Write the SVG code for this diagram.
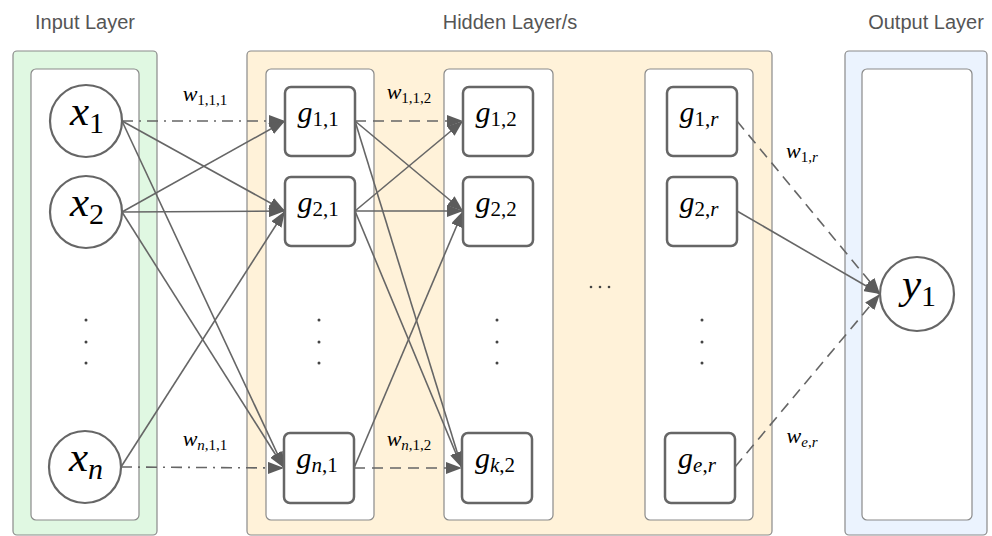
<svg xmlns="http://www.w3.org/2000/svg" width="992" height="536" viewBox="0 0 992 536">
<style>
.title{font-family:"Liberation Sans",Arial,sans-serif;font-size:20px;fill:#555;text-anchor:middle}
.outer{stroke:#8a8a8a;stroke-width:1.2}
.inner{fill:#fff;stroke:#8a8a8a;stroke-width:1.2}
.node{fill:#fff;stroke:#666;stroke-width:2.5}
.circ{fill:#fff;stroke:#666;stroke-width:2.2}
.m{font-family:"Liberation Serif","Times New Roman",serif;fill:#000;text-anchor:middle}
.i{font-style:italic}
.big{font-size:43px}
.sub{font-size:30px}
.gb{font-size:30px}
.gs{font-size:21px}
.wb{font-size:22px}
.ws{font-size:15px}
.dot{fill:#444}
.e{fill:none;stroke:#666;stroke-width:1.6;marker-end:url(#ah)}
.dd{stroke-dasharray:11 6 2 6}
.da{stroke-dasharray:11 7}
</style>
<defs>
<marker id="ah" markerUnits="userSpaceOnUse" markerWidth="16" markerHeight="12" refX="16" refY="6" orient="auto">
<path d="M0,0 L16,6 L0,12 z" fill="#5c5c5c"/>
</marker>
</defs>
<text class="title" x="85" y="29">Input Layer</text>
<text class="title" x="510" y="29">Hidden Layer/s</text>
<text class="title" x="926" y="29">Output Layer</text>
<g id="input-layer">
<rect class="outer" x="13" y="51" width="144" height="484" rx="4" fill="#e0f8e2"/>
<rect class="inner" x="31" y="69" width="108" height="451" rx="5"/>
<circle class="dot" cx="86" cy="320" r="1.5"/><circle class="dot" cx="86" cy="342" r="1.5"/><circle class="dot" cx="86" cy="363" r="1.5"/>
</g>
<g id="hidden-layer">
<rect class="outer" x="247" y="51" width="525" height="484" rx="4" fill="#fff2d9"/>
<rect class="inner" x="266" y="69" width="108" height="451" rx="5"/>
<rect class="inner" x="444" y="69" width="109" height="451" rx="5"/>
<rect class="inner" x="645" y="69" width="108" height="451" rx="5"/>
<circle class="dot" cx="319" cy="320" r="1.5"/><circle class="dot" cx="319" cy="342" r="1.5"/><circle class="dot" cx="319" cy="363" r="1.5"/>
<circle class="dot" cx="497" cy="320" r="1.5"/><circle class="dot" cx="497" cy="342" r="1.5"/><circle class="dot" cx="497" cy="363" r="1.5"/>
<circle class="dot" cx="702" cy="320" r="1.5"/><circle class="dot" cx="702" cy="342" r="1.5"/><circle class="dot" cx="702" cy="363" r="1.5"/>
<circle class="dot" cx="591" cy="287" r="1.3"/><circle class="dot" cx="600" cy="287" r="1.3"/><circle class="dot" cx="609" cy="287" r="1.3"/>
</g>
<g id="output-layer">
<rect class="outer" x="845" y="51" width="142" height="484" rx="4" fill="#ebf3fe"/>
<rect class="inner" x="862" y="69" width="110" height="451" rx="5"/>
</g>
<g id="connectors">
<line class="e dd" x1="122" y1="121" x2="285" y2="121"/>
<line class="e" x1="122" y1="121" x2="285" y2="211"/>
<line class="e" x1="122" y1="121" x2="284" y2="468"/>
<line class="e" x1="122" y1="212" x2="285" y2="121"/>
<line class="e" x1="122" y1="212" x2="285" y2="211"/>
<line class="e" x1="122" y1="212" x2="284" y2="468"/>
<line class="e" x1="121" y1="467" x2="285" y2="211"/>
<line class="e dd" x1="121" y1="467" x2="284" y2="468"/>
<line class="e da" x1="355" y1="121" x2="463" y2="121"/>
<line class="e" x1="355" y1="121" x2="463" y2="211"/>
<line class="e" x1="355" y1="121" x2="462" y2="468"/>
<line class="e" x1="355" y1="211" x2="463" y2="121"/>
<line class="e" x1="355" y1="211" x2="463" y2="211"/>
<line class="e" x1="355" y1="211" x2="462" y2="468"/>
<line class="e" x1="354" y1="468" x2="463" y2="211"/>
<line class="e da" x1="354" y1="468" x2="462" y2="468"/>
<line class="e da" x1="737" y1="121" x2="880" y2="294"/>
<line class="e" x1="737" y1="211" x2="880" y2="294"/>
<line class="e da" x1="735" y1="467" x2="880" y2="294"/>
</g>
<g id="labels">
<text class="m" x="205" y="101"><tspan class="wb i">w</tspan><tspan class="ws" dy="4">1,1,1</tspan></text>
<text class="m" x="205" y="446"><tspan class="wb i">w</tspan><tspan class="ws i" dy="4">n</tspan><tspan class="ws">,1,1</tspan></text>
<text class="m" x="409" y="99"><tspan class="wb i">w</tspan><tspan class="ws" dy="4">1,1,2</tspan></text>
<text class="m" x="409" y="446"><tspan class="wb i">w</tspan><tspan class="ws i" dy="4">n</tspan><tspan class="ws">,1,2</tspan></text>
<text class="m" x="802" y="158"><tspan class="wb i">w</tspan><tspan class="ws" dy="4">1,</tspan><tspan class="ws i">r</tspan></text>
<text class="m" x="802" y="443"><tspan class="wb i">w</tspan><tspan class="ws i" dy="4">e</tspan><tspan class="ws">,</tspan><tspan class="ws i">r</tspan></text>
</g>
<g id="x1"><circle class="circ" cx="86" cy="121" r="36"/><text class="m" x="87" y="125"><tspan class="big i">x</tspan><tspan class="sub" dy="8">1</tspan></text></g>
<g id="x2"><circle class="circ" cx="86" cy="212" r="36"/><text class="m" x="87" y="216"><tspan class="big i">x</tspan><tspan class="sub" dy="8">2</tspan></text></g>
<g id="xn"><circle class="circ" cx="85" cy="467" r="36"/><text class="m" x="86" y="471"><tspan class="big i">x</tspan><tspan class="sub i" dy="8">n</tspan></text></g>
<g id="g11"><rect class="node" x="285" y="87" width="70" height="69" rx="6"/><text class="m" x="318" y="122"><tspan class="gb i">g</tspan><tspan class="gs" dy="4">1,1</tspan></text></g>
<g id="g21"><rect class="node" x="285" y="177" width="70" height="69" rx="6"/><text class="m" x="318" y="212"><tspan class="gb i">g</tspan><tspan class="gs" dy="4">2,1</tspan></text></g>
<g id="gn1"><rect class="node" x="284" y="433" width="70" height="70" rx="6"/><text class="m" x="317" y="468"><tspan class="gb i">g</tspan><tspan class="gs i" dy="4">n</tspan><tspan class="gs">,1</tspan></text></g>
<g id="g12"><rect class="node" x="463" y="87" width="70" height="69" rx="6"/><text class="m" x="496" y="122"><tspan class="gb i">g</tspan><tspan class="gs" dy="4">1,2</tspan></text></g>
<g id="g22"><rect class="node" x="463" y="177" width="70" height="69" rx="6"/><text class="m" x="496" y="212"><tspan class="gb i">g</tspan><tspan class="gs" dy="4">2,2</tspan></text></g>
<g id="gk2"><rect class="node" x="462" y="433" width="70" height="70" rx="6"/><text class="m" x="495" y="468"><tspan class="gb i">g</tspan><tspan class="gs i" dy="4">k</tspan><tspan class="gs">,2</tspan></text></g>
<g id="g1r"><rect class="node" x="667" y="87" width="70" height="69" rx="6"/><text class="m" x="699" y="122"><tspan class="gb i">g</tspan><tspan class="gs" dy="4">1,</tspan><tspan class="gs i">r</tspan></text></g>
<g id="g2r"><rect class="node" x="667" y="177" width="70" height="69" rx="6"/><text class="m" x="699" y="212"><tspan class="gb i">g</tspan><tspan class="gs" dy="4">2,</tspan><tspan class="gs i">r</tspan></text></g>
<g id="ger"><rect class="node" x="665" y="433" width="70" height="70" rx="6"/><text class="m" x="697" y="468"><tspan class="gb i">g</tspan><tspan class="gs i" dy="4">e</tspan><tspan class="gs">,</tspan><tspan class="gs i">r</tspan></text></g>
<g id="y1"><circle class="circ" cx="917" cy="294" r="37"/><text class="m" x="919" y="298"><tspan class="big i">y</tspan><tspan class="sub" dy="8">1</tspan></text></g>
</svg>
